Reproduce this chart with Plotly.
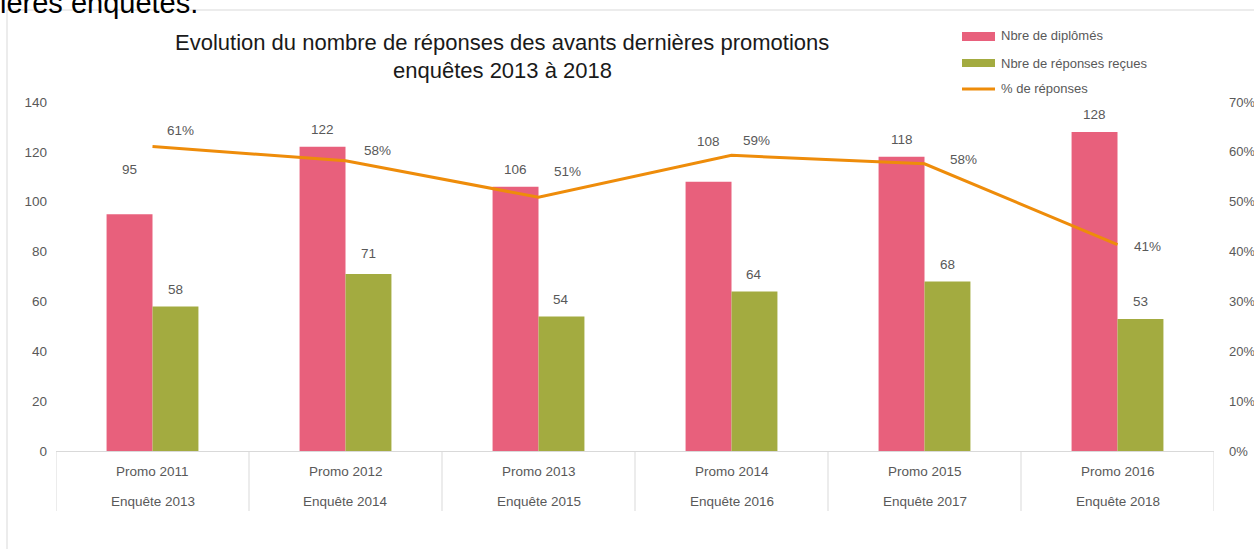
import plotly.graph_objects as go

# ---- data ----
promos = ["Promo 2011", "Promo 2012", "Promo 2013", "Promo 2014", "Promo 2015", "Promo 2016"]
enquetes = ["Enquête 2013", "Enquête 2014", "Enquête 2015", "Enquête 2016", "Enquête 2017", "Enquête 2018"]
diplomes = [95, 122, 106, 108, 118, 128]
reponses = [58, 71, 54, 64, 68, 53]
pct_reponses = [0.6105, 0.582, 0.509, 0.593, 0.576, 0.414]
pct_labels = ["61%", "58%", "51%", "59%", "58%", "41%"]

# ---- styling ----
W, H = 1254, 549
L, R, T, B = 56, 1214, 102, 451  # plot area pixel box
PINK = "#E8607C"
GREEN = "#A3AB40"
ORANGE = "#EE8C0A"
GRAY = "#595959"
LINE = "#D9D9D9"
FONT = "Liberation Sans"

def px(x):
    return (x - L) / (R - L)

def py(y):
    return (B - y) / (B - T)

xs = list(range(len(promos)))
bw = 0.238

fig = go.Figure()
fig.add_trace(go.Bar(x=xs, y=diplomes, name="Nbre de diplômés", marker=dict(color=PINK, line=dict(width=0)),
                     width=bw, offset=-bw, showlegend=False))
fig.add_trace(go.Bar(x=xs, y=reponses, name="Nbre de réponses reçues", marker=dict(color=GREEN, line=dict(width=0)),
                     width=bw, offset=0, showlegend=False))
fig.add_trace(go.Scatter(x=xs, y=pct_reponses, name="% de réponses", mode="lines", yaxis="y2",
                         line=dict(color=ORANGE, width=3), showlegend=False))

ann = []
# bar value labels
bar_shift_d = [45, 17, 17, 40, 17, 17]
bar_shift_r = [17, 21, 17, 17, 17, 17]
for i in xs:
    ann.append(dict(x=i - bw / 2, y=diplomes[i], xref="x", yref="y", text=str(diplomes[i]), showarrow=False,
                    yanchor="middle", yshift=bar_shift_d[i], font=dict(size=13.5, color=GRAY, family=FONT)))
    ann.append(dict(x=i + bw / 2, y=reponses[i], xref="x", yref="y", text=str(reponses[i]), showarrow=False,
                    yanchor="middle", yshift=bar_shift_r[i], font=dict(size=13.5, color=GRAY, family=FONT)))
# line labels
pdx = [28, 32, 29, 25, 39, 30]
pdy = [16, 10, 26, 15, 4, -2]
for i in xs:
    ann.append(dict(x=i, y=pct_reponses[i], xref="x", yref="y2", text=pct_labels[i], showarrow=False,
                    xshift=pdx[i], yshift=pdy[i], yanchor="middle",
                    font=dict(size=13.5, color=GRAY, family=FONT)))
# category labels (two levels)
for i in xs:
    ann.append(dict(x=i, y=py(471), xref="x", yref="paper", text=promos[i], showarrow=False, yanchor="middle",
                    font=dict(size=13.5, color=GRAY, family=FONT)))
    ann.append(dict(x=i, y=py(501), xref="x", yref="paper", text=enquetes[i], showarrow=False, yanchor="middle",
                    font=dict(size=13.5, color=GRAY, family=FONT)))
# title
ann.append(dict(x=px(502), y=py(43), xref="paper", yref="paper", showarrow=False, yanchor="middle",
                text="Evolution du nombre de réponses des avants dernières promotions",
                font=dict(size=22, color="#1a1a1a", family=FONT)))
ann.append(dict(x=px(502), y=py(71), xref="paper", yref="paper", showarrow=False, yanchor="middle",
                text="enquêtes 2013 à 2018", font=dict(size=22, color="#1a1a1a", family=FONT)))
# cropped document text at top
ann.append(dict(x=px(-2), y=py(3), xref="paper", yref="paper", showarrow=False, xanchor="left", yanchor="middle",
                text="ières enquêtes.", font=dict(size=29, color="#000000", family=FONT)))
# legend text
leg = [("Nbre de diplômés", 36), ("Nbre de réponses reçues", 63), ("% de réponses", 88)]
for t, yy in leg:
    ann.append(dict(x=px(999), y=py(yy), xref="paper", yref="paper", showarrow=False, xanchor="left",
                    yanchor="middle", text=t, font=dict(size=13, color=GRAY, family=FONT)))

shapes = []
# chart border
shapes.append(dict(type="rect", xref="paper", yref="paper", x0=px(7), x1=px(1300), y0=py(600), y1=py(10),
                   line=dict(color=LINE, width=1), layer="below"))
# category dividers
for k in range(len(promos) + 1):
    shapes.append(dict(type="line", xref="x", yref="paper", x0=k - 0.5, x1=k - 0.5, y0=0, y1=py(511),
                       line=dict(color=LINE, width=1)))
# legend swatches
shapes.append(dict(type="rect", xref="paper", yref="paper", x0=px(962), x1=px(995), y0=py(41), y1=py(32),
                   fillcolor=PINK, line=dict(width=0)))
shapes.append(dict(type="rect", xref="paper", yref="paper", x0=px(962), x1=px(995), y0=py(67), y1=py(59),
                   fillcolor=GREEN, line=dict(width=0)))
shapes.append(dict(type="line", xref="paper", yref="paper", x0=px(962), x1=px(995), y0=py(89), y1=py(89),
                   line=dict(color=ORANGE, width=3)))

fig.update_layout(
    width=W, height=H,
    margin=dict(l=L, r=W - R, t=T, b=H - B, pad=0, autoexpand=False),
    paper_bgcolor="white", plot_bgcolor="white",
    barmode="overlay",
    font=dict(family=FONT, color=GRAY, size=13.5),
    xaxis=dict(range=[-0.5, len(promos) - 0.5], showticklabels=False, showgrid=False, zeroline=False,
               showline=True, linecolor=LINE, linewidth=1, ticks="", automargin=False),
    yaxis=dict(range=[0, 140], tickvals=[0, 20, 40, 60, 80, 100, 120, 140], showgrid=False, zeroline=False,
               showline=False, ticks="", ticklabelstandoff=8, tickfont=dict(size=13.5, color=GRAY),
               automargin=False),
    yaxis2=dict(range=[0, 0.7], overlaying="y", side="right", tickformat=".0%",
                tickvals=[0, 0.1, 0.2, 0.3, 0.4, 0.5, 0.6, 0.7], showgrid=False, zeroline=False,
                showline=False, ticks="", ticklabelstandoff=14, tickfont=dict(size=13, color=GRAY),
                automargin=False),
    annotations=ann,
    shapes=shapes,
    showlegend=False,
)

fig.write_html("out.html", config={"displayModeBar": False},
               post_script="document.body.style.margin='0';document.body.style.overflow='hidden';")
